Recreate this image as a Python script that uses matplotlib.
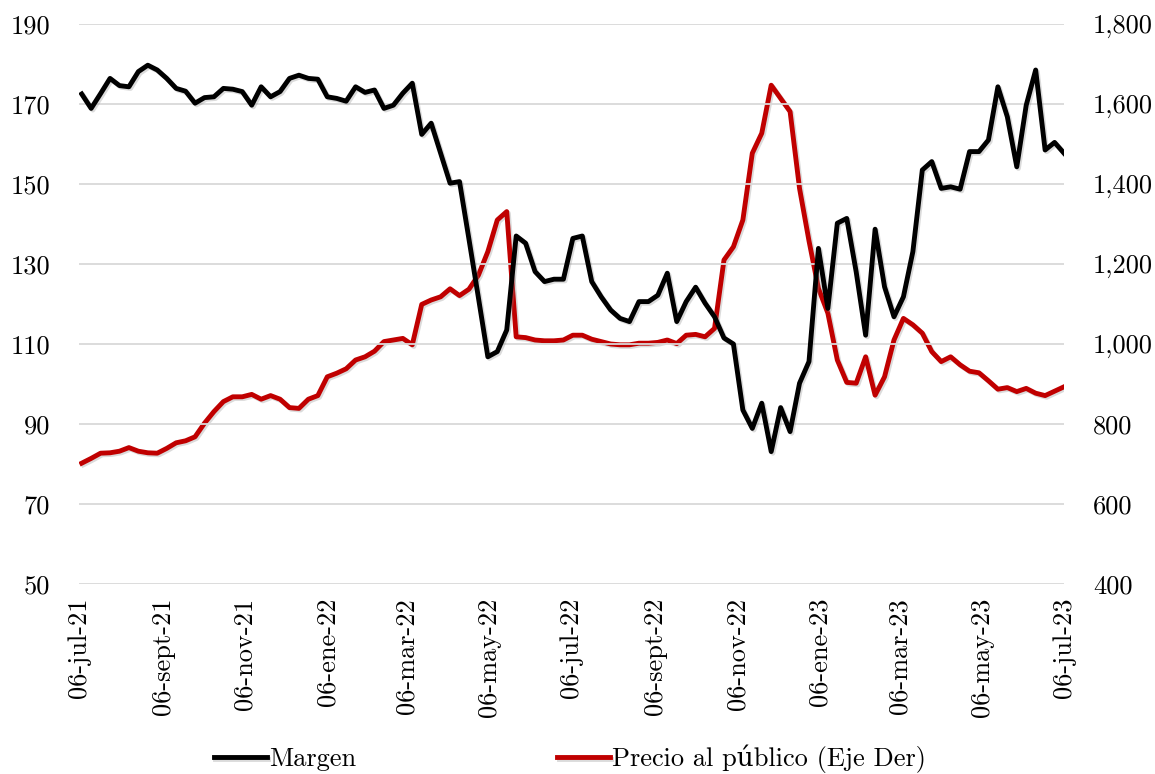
import matplotlib
matplotlib.use("Agg")
import matplotlib.pyplot as plt
import matplotlib.patheffects as pe
import pandas as pd

plt.rcParams['font.family'] = ['cmr10', 'DejaVu Serif']
plt.rcParams['axes.formatter.use_mathtext'] = True

dates = pd.date_range('2021-07-08', periods=105, freq='7D')

margen = [172.5, 168.9, 172.6, 176.4, 174.6, 174.3, 178.1, 179.7, 178.5, 176.4,
          173.9, 173.2, 170.2, 171.6, 171.8, 173.9, 173.7, 173.1, 169.7, 174.3,
          171.8, 173.1, 176.4, 177.2, 176.4, 176.2, 171.8, 171.4, 170.7, 174.3,
          172.9, 173.5, 168.9, 169.7, 172.7, 175.2, 162.4, 165.2, 157.7, 150.2,
          150.6, 136.2, 121.6, 106.8, 108.1, 113.5, 137.0, 135.2, 128.1, 125.6,
          126.2, 126.2, 136.4, 137.0, 125.6, 121.8, 118.5, 116.4, 115.6, 120.6,
          120.6, 122.2, 127.7, 115.6, 120.6, 124.2, 120.2, 116.8, 111.5, 110.0,
          93.5, 88.9, 95.2, 83.1, 94.1, 88.1, 100.2, 105.6, 133.9, 118.9,
          140.2, 141.4, 128.0, 112.2, 138.7, 124.3, 116.8, 121.8, 133.1, 153.5,
          155.6, 148.9, 149.3, 148.7, 158.1, 158.1, 161.0, 174.3, 166.8, 154.3,
          169.7, 178.5, 158.5, 160.4, 157.7]

precio = [702, 714, 727, 728, 732, 741, 732, 728, 727, 739,
          753, 758, 768, 802, 831, 856, 868, 868, 874, 862,
          871, 862, 841, 839, 862, 871, 918, 927, 938, 960,
          968, 982, 1006, 1010, 1014, 998, 1099, 1110, 1118, 1138,
          1121, 1137, 1172, 1231, 1310, 1331, 1018, 1016, 1010, 1008,
          1008, 1010, 1022, 1022, 1012, 1006, 1000, 998, 998, 1002,
          1002, 1004, 1010, 1001, 1022, 1024, 1018, 1039, 1210, 1243,
          1310, 1477, 1527, 1647, 1614, 1581, 1389, 1258, 1139, 1077,
          960, 904, 902, 968, 872, 918, 1010, 1064, 1048, 1027,
          981, 956, 968, 948, 932, 928, 908, 887, 891, 881,
          889, 877, 871, 882, 893]

tick_dates = pd.to_datetime(['2021-07-06', '2021-09-06', '2021-11-06', '2022-01-06',
                             '2022-03-06', '2022-05-06', '2022-07-06', '2022-09-06',
                             '2022-11-06', '2023-01-06', '2023-03-06', '2023-05-06',
                             '2023-07-06'])
tick_labels = ['06-jul-21', '06-sept-21', '06-nov-21', '06-ene-22', '06-mar-22',
               '06-may-22', '06-jul-22', '06-sept-22', '06-nov-22', '06-ene-23',
               '06-mar-23', '06-may-23', '06-jul-23']
left_ticks = [50, 70, 90, 110, 130, 150, 170, 190]
right_ticks = [400, 600, 800, 1000, 1200, 1400, 1600, 1800]

FS = 19

fig = plt.figure(figsize=(11.55, 7.74), dpi=100)
ax = fig.add_axes([79/1155, 1-584/774, (1064-79)/1155, 560/774])
ax2 = ax.twinx()

for a in (ax, ax2):
    for s in a.spines.values():
        s.set_visible(False)

ax.set_ylim(50, 190)
ax.set_yticks(left_ticks)
ax.set_yticklabels([str(t) for t in left_ticks])
ax.grid(axis='y', color='#d9d9d9', lw=1.3)
ax.set_axisbelow(True)
ax2.set_ylim(400, 1800)
ax2.set_yticks(right_ticks)
ax2.set_yticklabels([f"{t:,}" for t in right_ticks])

ax.set_xlim(pd.Timestamp('2021-07-06'), pd.Timestamp('2023-07-06'))
ax.set_xticks(tick_dates)
ax.set_xticklabels(tick_labels, rotation=90)

ax.tick_params(axis='x', length=0, pad=10, labelsize=FS)
ax.tick_params(axis='y', length=0, pad=21, labelsize=FS)
ax2.tick_params(axis='y', length=0, pad=21, labelsize=FS)

shadow = [pe.SimpleLineShadow(offset=(1.2, -1.2), shadow_color='#888888', alpha=0.3),
          pe.Normal()]
l1, = ax.plot(dates, margen, color='black', lw=3.5, solid_joinstyle='round', zorder=3,
              label='Margen', path_effects=shadow)
l2, = ax2.plot(dates, precio, color='#C00000', lw=3.5, solid_joinstyle='round', zorder=3,
               label='Precio al público (Eje Der)', path_effects=shadow)
ax.set_zorder(ax2.get_zorder() + 1)
ax.patch.set_visible(False)

fig.legend([l1, l2], ['Margen', 'Precio al público (Eje Der)'], loc='center',
           bbox_to_anchor=(570/1155, 1-759/774), ncol=2, frameon=False, fontsize=FS,
           handlelength=2.0, handletextpad=0.1, columnspacing=7.6)

fig.savefig('out.png', dpi=100)
